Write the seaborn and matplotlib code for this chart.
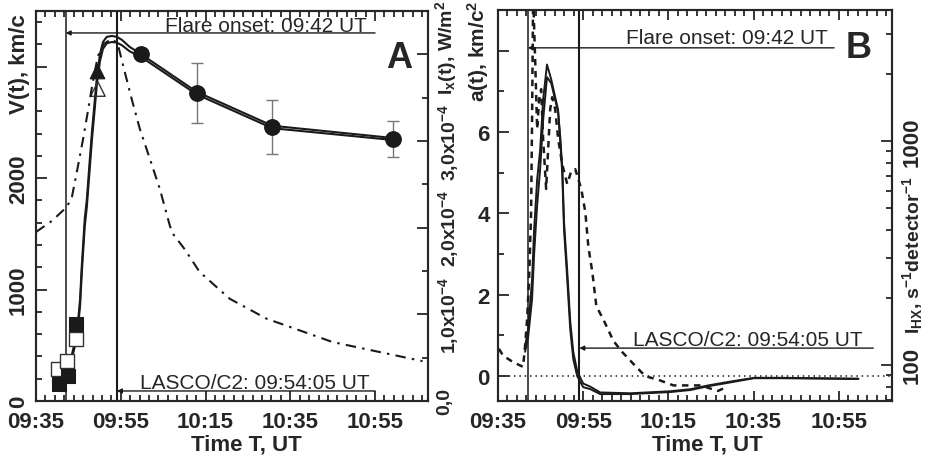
import numpy as np
import pandas as pd
import matplotlib
matplotlib.use("Agg")
import matplotlib.pyplot as plt
import seaborn as sns
from matplotlib.ticker import FixedLocator, MultipleLocator, LogLocator, NullFormatter

# ---------------- data (time in minutes after 09:35 UT) ----------------
xtick_pos = [0, 20, 40, 60, 80]
xtick_labels = ["09:35", "09:55", "10:15", "10:35", "10:55"]
t_onset = 7.0          # 09:42
t_lasco = 19.08        # 09:54:05

# Panel A: velocity fit (two close curves)
v_t = [6.4, 7.3, 8.5, 9.7, 10.4, 10.8, 11.5, 12.0, 12.7, 13.2, 13.9, 14.4, 15.1, 15.8,
       16.7, 17.9, 19.1, 20.3, 22.1, 24.7, 37.9, 55.8, 84.3]
v_upper = [242, 314, 420, 620, 915, 1210, 1635, 1810, 2170, 2415, 2710, 2920, 3115, 3222,
           3268, 3276, 3268, 3240, 3178, 3115, 2775, 2470, 2360]
v_lower = [225, 290, 385, 575, 855, 1145, 1565, 1745, 2095, 2345, 2640, 2860, 3050, 3160,
           3210, 3222, 3216, 3192, 3138, 3090, 2752, 2448, 2342]

sq_fill_t = [5.4, 7.5, 9.4]
sq_fill_v = [153, 224, 690]
sq_open_t = [5.2, 7.3, 9.5]
sq_open_v = [287, 359, 557]
tri_fill_t = [14.4]
tri_fill_v = [2962]
tri_open_t = [14.6]
tri_open_v = [2800]
circ_t = [24.7, 37.9, 55.8, 84.3]
circ_v = [3115, 2765, 2460, 2352]
circ_err = [0, 270, 242, 162]

# Panel A: soft X-ray flux I_x (units of 1e-4 W/m^2)
ix_t = [0.0, 3.8, 7.3, 8.5, 9.9, 11.1, 12.2, 13.4, 14.6, 16.0, 17.9, 19.3, 20.3, 22.6,
        24.5, 26.9, 29.2, 31.6, 32.3, 35.1, 38.6, 45.7, 54.4, 70.0, 91.2]
ix_val = [1.95, 2.08, 2.24, 2.36, 2.71, 3.02, 3.33, 3.68, 3.98, 4.12, 4.18, 4.12, 3.92, 3.48,
          3.14, 2.79, 2.45, 2.02, 1.93, 1.75, 1.49, 1.18, 0.95, 0.68, 0.46]

# Panel B: acceleration (two close curves)
a_t = [6.36, 7.07, 8.0, 8.48, 9.19, 9.9, 10.6, 11.5, 12.5, 13.4, 14.1, 14.6, 15.1, 15.5,
       16.25, 16.96, 17.67, 18.6, 20.0, 21.7, 24.0, 31.1, 40.5, 45.2, 49.2, 54.7, 60.1,
       66.4, 84.6]
a_upper = [0.74, 1.15, 2.38, 3.6, 4.83, 5.57, 6.8, 7.66, 7.29, 6.87, 6.55, 5.8, 4.96, 3.6,
           2.38, 1.15, 0.42, 0.0, -0.27, -0.32, -0.44, -0.44, -0.39, -0.34, -0.25, -0.15,
           -0.05, -0.05, -0.07]
a_lower = [0.6, 0.95, 1.9, 3.0, 4.2, 5.1, 6.3, 7.35, 7.2, 6.8, 6.5, 5.9, 5.1, 3.8,
           2.6, 1.35, 0.6, 0.12, -0.18, -0.26, -0.4, -0.42, -0.37, -0.32, -0.23, -0.13,
           -0.04, -0.04, -0.06]

# Panel B: hard X-ray counts I_HX
hx_t = [0.24, 1.18, 3.53, 5.89, 6.36, 6.83, 7.30, 7.77, 8.0, 8.25, 8.72, 9.19, 9.66, 10.13,
        10.6, 11.3, 11.78, 12.25, 12.72, 13.43, 14.13, 15.08, 16.25, 17.2, 18.14, 18.85,
        19.55, 20.5, 21.2, 22.14, 23.09, 24.7, 27.1, 29.2, 31.8, 34.6, 37.5, 41.2, 47.6,
        51.6, 53.9]
hx_val = [118, 110, 103, 98, 122, 160, 242, 482, 1255, 4500, 2320, 1130, 1540, 1705, 1020,
          611, 922, 1385, 1570, 1385, 1020, 788, 643, 734, 749, 676, 611, 482, 339, 260,
          183, 160, 128, 114, 101, 89, 86, 81, 81, 76.5, 80]

# ---------------- style ----------------
sns.set_theme(style="ticks")
plt.rcParams["font.family"] = ["Liberation Sans", "DejaVu Sans"]
plt.rcParams["font.weight"] = "bold"
plt.rcParams["mathtext.fontset"] = "custom"
plt.rcParams["mathtext.rm"] = "Liberation Sans"
plt.rcParams["mathtext.bf"] = "Liberation Sans:bold"
plt.rcParams["mathtext.default"] = "regular"
plt.rcParams["axes.linewidth"] = 1.5

FS = 16
FA = 15
fig = plt.figure(figsize=(9.28, 4.6), dpi=100)
W, H = 928, 460
axA = fig.add_axes([36 / W, 58 / H, 392 / W, 390 / H])
axB = fig.add_axes([498 / W, 58 / H, 394 / W, 391 / H])

minor_x = np.arange(0, 93, 20 / 9)


def style_x(ax):
    ax.set_xlim(0, 92.5)
    ax.xaxis.set_major_locator(FixedLocator(xtick_pos))
    ax.set_xticklabels(xtick_labels)
    ax.xaxis.set_minor_locator(FixedLocator(minor_x))
    ax.tick_params(axis="x", which="both", direction="in", top=True, bottom=True,
                   labelsize=FS, pad=7, width=1.3)
    ax.tick_params(axis="x", which="major", length=7)
    ax.tick_params(axis="x", which="minor", length=4)
    ax.set_xlabel("")
    for lab in ax.get_xticklabels():
        lab.set_fontweight("bold")


arrow_kw = dict(arrowstyle="-|>", color="k", lw=1.0, mutation_scale=7,
                shrinkA=0, shrinkB=0)

# ---------------- panel A ----------------
axA2 = axA.twinx()
axA2.set_ylim(0, 4.5)
sns.lineplot(x=ix_t, y=ix_val, ax=axA2, color="k", lw=1.5, estimator=None, sort=False,
             linestyle=(0, (5, 3, 1.2, 3)))
axA2.set_ylabel("")

sns.lineplot(x=v_t, y=v_upper, ax=axA, color="k", lw=1.5, estimator=None, sort=False)
sns.lineplot(x=v_t, y=v_lower, ax=axA, color="k", lw=1.5, estimator=None, sort=False)
axA.errorbar(circ_t[1:], circ_v[1:], yerr=circ_err[1:], fmt="none", ecolor="#777777",
             elinewidth=1.0, capsize=4, capthick=1.0, zorder=3)
sns.scatterplot(x=sq_open_t, y=sq_open_v, ax=axA, marker="s", s=95, facecolor="white",
                edgecolor="#333333", linewidth=1.0, zorder=4)
sns.scatterplot(x=sq_fill_t, y=sq_fill_v, ax=axA, marker="s", s=95, color="k",
                edgecolor="k", zorder=5)
sns.scatterplot(x=tri_open_t, y=tri_open_v, ax=axA, marker="^", s=110, facecolor="none",
                edgecolor="#333333", linewidth=1.0, zorder=4)
sns.scatterplot(x=tri_fill_t, y=tri_fill_v, ax=axA, marker="^", s=110, color="k",
                edgecolor="k", zorder=5)
sns.scatterplot(x=circ_t, y=circ_v, ax=axA, marker="o", s=125, color="k", edgecolor="k",
                zorder=5)

axA.set_ylim(0, 3500)
axA.axvline(t_onset, color="k", lw=1.1)
axA.axvline(t_lasco, color="k", lw=1.5)
axA.annotate("", xy=(t_onset, 3303), xytext=(80, 3303), arrowprops=arrow_kw)
axA.text(78, 3325, "Flare onset: 09:42 UT", ha="right", va="baseline", fontsize=FA,
         fontweight="normal")
axA.annotate("", xy=(t_lasco, 90), xytext=(80, 90), arrowprops=arrow_kw)
axA.text(78.7, 118, "LASCO/C2: 09:54:05 UT", ha="right", va="baseline", fontsize=FA,
         fontweight="normal")

style_x(axA)
axA.yaxis.set_major_locator(FixedLocator([0, 1000, 2000, 3000]))
axA.set_yticklabels(["0", "1000", "2000", ""])
axA.yaxis.set_minor_locator(MultipleLocator(200))
axA.tick_params(axis="y", which="both", direction="in", left=True, right=False,
                labelsize=FS, pad=5, width=1.3)
axA.tick_params(axis="y", which="major", length=8)
axA.tick_params(axis="y", which="minor", length=4)
for lab in axA.get_yticklabels():
    lab.set_rotation(90)
    lab.set_va("center")
    lab.set_fontweight("bold")
axA.set_ylabel("")

axA2.yaxis.set_major_locator(FixedLocator([0, 1, 2, 3, 4]))
axA2.set_yticklabels(["0,0", "1,0x10$^{-4}$", "2,0x10$^{-4}$", "3,0x10$^{-4}$", ""])
axA2.yaxis.set_minor_locator(MultipleLocator(0.5))
axA2.tick_params(axis="y", which="both", direction="in", right=True, left=False,
                 labelsize=14, pad=6, width=1.3)
axA2.tick_params(axis="y", which="major", length=8)
axA2.tick_params(axis="y", which="minor", length=4)
for lab in axA2.get_yticklabels():
    lab.set_rotation(90)
    lab.set_va("center")
    lab.set_fontweight("bold")

fig.text(412 / W, 1 - 41 / H, "A", ha="right", va="top", fontsize=26, fontweight="bold")

# ---------------- panel B ----------------
axB2 = axB.twinx()
axB2.set_yscale("log")
axB2.set_ylim(69, 3850)
sns.lineplot(x=hx_t, y=hx_val, ax=axB2, color="k", lw=1.8, estimator=None, sort=False,
             linestyle=(0, (2.6, 2.2)))
axB2.set_ylabel("")

sns.lineplot(x=a_t, y=a_upper, ax=axB, color="k", lw=1.4, estimator=None, sort=False)
sns.lineplot(x=a_t, y=a_lower, ax=axB, color="k", lw=1.4, estimator=None, sort=False)
axB.set_ylim(-0.61, 9.0)
axB.axhline(0, color="k", lw=1.1, ls=(0, (1, 2.5)))
axB.axvline(t_onset, color="k", lw=1.1)
axB.axvline(t_lasco, color="k", lw=1.5)
axB.annotate("", xy=(t_onset, 8.07), xytext=(78.9, 8.07), arrowprops=arrow_kw)
axB.text(77.5, 8.2, "Flare onset: 09:42 UT", ha="right", va="baseline", fontsize=FA,
         fontweight="normal")
axB.annotate("", xy=(t_lasco, 0.69), xytext=(88.1, 0.69), arrowprops=arrow_kw)
axB.text(85.7, 0.76, "LASCO/C2: 09:54:05 UT", ha="right", va="baseline", fontsize=FA,
         fontweight="normal")

style_x(axB)
axB.yaxis.set_major_locator(FixedLocator([0, 2, 4, 6, 8]))
axB.set_yticklabels(["0", "2", "4", "6", ""])
axB.yaxis.set_minor_locator(MultipleLocator(1))
axB.tick_params(axis="y", which="both", direction="in", left=True, right=False,
                labelsize=FS, pad=6, width=1.3)
axB.tick_params(axis="y", which="major", length=8)
axB.tick_params(axis="y", which="minor", length=4)
for lab in axB.get_yticklabels():
    lab.set_fontweight("bold")
axB.set_ylabel("")

axB2.yaxis.set_major_locator(FixedLocator([100, 1000]))
axB2.set_yticklabels(["100", "1000"])
axB2.yaxis.set_minor_locator(LogLocator(base=10, subs=np.arange(2, 10)))
axB2.yaxis.set_minor_formatter(NullFormatter())
axB2.tick_params(axis="y", which="both", direction="in", right=True, left=False,
                 labelsize=FS, pad=7, width=1.3)
axB2.tick_params(axis="y", which="major", length=8)
axB2.tick_params(axis="y", which="minor", length=4)
for lab in axB2.get_yticklabels():
    lab.set_rotation(90)
    lab.set_va("center")
    lab.set_fontweight("bold")

fig.text(872 / W, 1 - 31 / H, "B", ha="right", va="top", fontsize=26, fontweight="bold")

# ---------------- axis titles ----------------
fig.text(20 / W, 1 - 14 / H, "V(t), km/c", rotation=90, ha="center", va="top",
         fontsize=FS, fontweight="bold")
fig.text(446 / W, 1 - 1 / H, "I$_x$(t), W/m$^2$", rotation=90, ha="center", va="top",
         fontsize=14, fontweight="bold")
fig.text(478 / W, 1 - 1 / H, "a(t), km/c$^2$", rotation=90, ha="center", va="top",
         fontsize=15, fontweight="bold")
fig.text(913 / W, 1 - 255 / H, "I$_{HX}$, s$^{-1}$detector$^{-1}$", rotation=90,
         ha="center", va="center", fontsize=14, fontweight="bold")
fig.text(246 / W, 1 - 445 / H, "Time T, UT", ha="center", va="center", fontsize=FS,
         fontweight="bold")
fig.text(707 / W, 1 - 445 / H, "Time T, UT", ha="center", va="center", fontsize=FS,
         fontweight="bold")

fig.savefig("out.png", dpi=100)
